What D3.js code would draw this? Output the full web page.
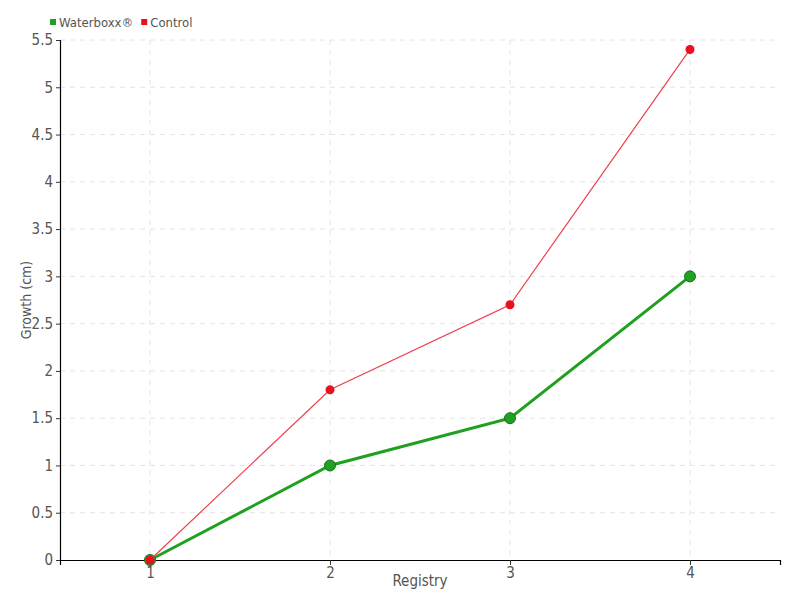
<!DOCTYPE html>
<html>
<head>
<meta charset="utf-8">
<script src="https://cdn.jsdelivr.net/npm/d3@7"></script>
<style>
body { margin: 0; background: #fff; }
svg text { font-family: "Liberation Sans Narrow", "DejaVu Sans Condensed", "DejaVu Sans", sans-serif; font-stretch: condensed; }
</style>
</head>
<body>
<div id="chart"></div>
<script>
// Data
var registry = [1, 2, 3, 4];
var waterboxx = [0, 1, 1.5, 3];
var control = [0, 1.8, 2.7, 5.4];
var yTicks = [0, 0.5, 1, 1.5, 2, 2.5, 3, 3.5, 4, 4.5, 5, 5.5];

var margin = {top: 40, bottom: 40, left: 60, right: 20},
    width = 800 - margin.left - margin.right,
    height = 600 - margin.top - margin.bottom;

var svg = d3.select("#chart").append("svg")
    .attr("width", 800)
    .attr("height", 600)
    .append("g")
    .attr("transform", `translate(${margin.left},${margin.top})`);

var x = d3.scaleLinear().domain([0.5, 4.5]).range([0, width]);
var y = d3.scaleLinear().domain([0, 5.5]).range([height, 0]);

// Grid
svg.append("g").selectAll("line").data(yTicks.slice(1)).join("line")
    .attr("x1", 0).attr("x2", width)
    .attr("y1", d => y(d)).attr("y2", d => y(d))
    .attr("stroke", "#e4e4e4").attr("stroke-dasharray", "5,5");
svg.append("g").selectAll("line").data(registry).join("line")
    .attr("x1", d => x(d)).attr("x2", d => x(d))
    .attr("y1", 0).attr("y2", height)
    .attr("stroke", "#e4e4e4").attr("stroke-dasharray", "5,5");

// Axes
var yAxis = svg.append("g")
    .call(d3.axisLeft(y).tickValues(yTicks).tickSize(4).tickPadding(3).tickFormat(d3.format("")));
var xAxis = svg.append("g")
    .attr("transform", `translate(0,${height})`)
    .call(d3.axisBottom(x).tickValues(registry).tickSize(5).tickPadding(2).tickFormat(d3.format("d")));
[xAxis, yAxis].forEach(function(a) {
    a.attr("font-family", null);
    a.select(".domain").attr("stroke", "#000").attr("stroke-width", 1.2);
    a.selectAll(".tick line").attr("stroke", "#333");
    a.selectAll("text").attr("fill", "#555").attr("font-size", "15px");
});

// Axis titles
svg.append("text")
    .attr("x", width / 2).attr("y", height + 26)
    .attr("text-anchor", "middle")
    .attr("font-size", "15px").attr("fill", "#555")
    .text("Registry");
svg.append("text")
    .attr("transform", `translate(-29,${height / 2}) rotate(-90)`)
    .attr("text-anchor", "middle")
    .attr("font-size", "14px").attr("fill", "#555")
    .text("Growth (cm)");

// Lines
var line = d3.line().x((d, i) => x(registry[i])).y(d => y(d));

svg.append("path").datum(waterboxx)
    .attr("d", line)
    .attr("fill", "none")
    .attr("stroke", "#1fa01f")
    .attr("stroke-width", 3);
svg.append("g").selectAll("circle").data(waterboxx).join("circle")
    .attr("cx", (d, i) => x(registry[i])).attr("cy", d => y(d))
    .attr("r", 5.5)
    .attr("fill", "#21a121").attr("stroke", "#1a6e1a").attr("stroke-width", 1);

svg.append("path").datum(control)
    .attr("d", line)
    .attr("fill", "none")
    .attr("stroke", "#f0404e")
    .attr("stroke-width", 1.2);
svg.append("g").selectAll("circle").data(control).join("circle")
    .attr("cx", (d, i) => x(registry[i])).attr("cy", d => y(d))
    .attr("r", 4.5)
    .attr("fill", "#e8121f");

// Legend
var legendItems = [
    {name: "Waterboxx®", color: "#1fa01f"},
    {name: "Control", color: "#e8121f"}
];
var legend = svg.append("g").attr("transform", "translate(-10,-18)");
var lx = 0;
legendItems.forEach(function(item) {
    var g = legend.append("g").attr("transform", `translate(${lx},0)`);
    g.append("rect").attr("x", 0).attr("y", -3).attr("width", 6).attr("height", 6)
        .attr("fill", item.color);
    var t = g.append("text").attr("x", 9).attr("y", 5)
        .attr("font-size", "13px").attr("fill", "#555").text(item.name);
    lx += 9 + t.node().getComputedTextLength() + 8;
});
</script>
</body>
</html>
